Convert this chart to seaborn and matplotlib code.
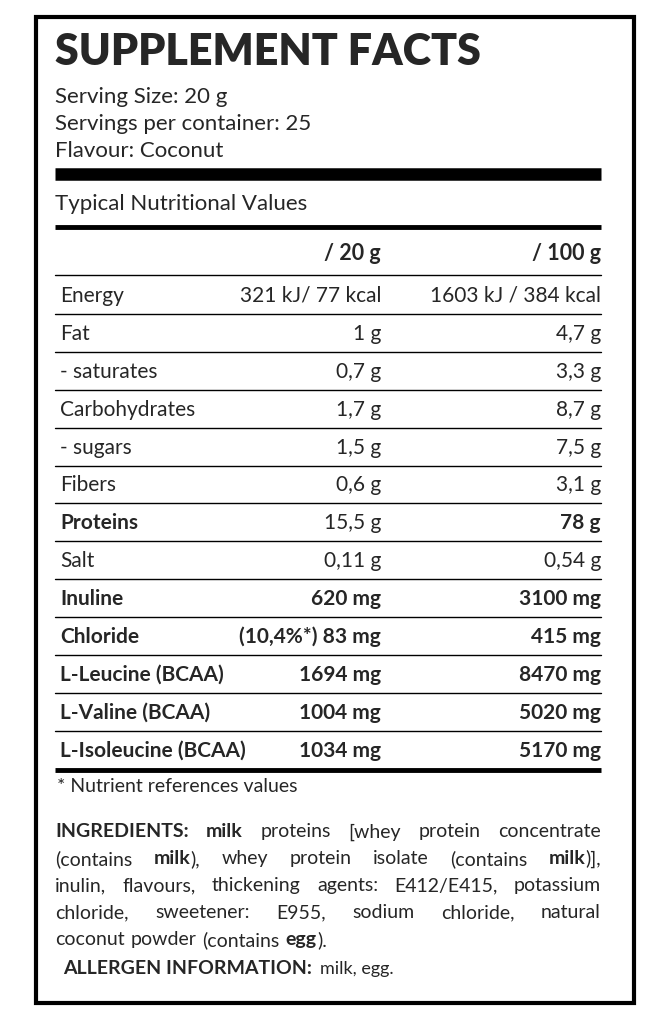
import matplotlib
matplotlib.use("Agg")
import matplotlib.pyplot as plt
import seaborn as sns

sns.set_theme(style="white")
plt.rcParams['font.family'] = ['Lato', 'DejaVu Sans']

title = "SUPPLEMENT FACTS"
header_lines = ["Serving Size: 20 g", "Servings per container: 25", "Flavour: Coconut"]
section = "Typical Nutritional Values"
col_heads = ["/ 20 g", "/ 100 g"]
nutrients = ["Energy", "Fat", "- saturates", "Carbohydrates", "- sugars", "Fibers", "Proteins",
             "Salt", "Inuline", "Chloride", "L-Leucine (BCAA)", "L-Valine (BCAA)", "L-Isoleucine (BCAA)"]
per20 = ["321 kJ/ 77 kcal", "1 g", "0,7 g", "1,7 g", "1,5 g", "0,6 g", "15,5 g", "0,11 g",
         "620 mg", "(10,4%*) 83 mg", "1694 mg", "1004 mg", "1034 mg"]
per100 = ["1603 kJ / 384 kcal", "4,7 g", "3,3 g", "8,7 g", "7,5 g", "3,1 g", "78 g", "0,54 g",
          "3100 mg", "415 mg", "8470 mg", "5020 mg", "5170 mg"]
bold_name = [False]*6 + [True] + [False] + [True]*5
bold_20 = [False]*8 + [True]*5
bold_100 = [False]*6 + [True] + [False] + [True]*5
footnote = "* Nutrient references values"
ingredients = [
    [("INGREDIENTS:", True), ("milk", True), ("proteins", False), ("[whey", False), ("protein", False), ("concentrate", False)],
    [("(contains", False), ("milk),", "mix"), ("whey", False), ("protein", False), ("isolate", False), ("(contains", False), ("milk)],", "mix2")],
    [("inulin,", False), ("flavours,", False), ("thickening", False), ("agents:", False), ("E412/E415,", False), ("potassium", False)],
    [("chloride,", False), ("sweetener:", False), ("E955,", False), ("sodium", False), ("chloride,", False), ("natural", False)],
    [("coconut", False), ("powder", False), ("(contains", False), ("egg).", "mix3")],
]

fig = plt.figure(figsize=(6.72, 10.2), dpi=100)
ax = fig.add_axes([0, 0, 1, 1])
ax.set_xlim(0, 672); ax.set_ylim(1020, 0); ax.axis('off')
fig.patch.set_facecolor('white')

ax.add_patch(plt.Rectangle((36, 18), 598, 986, fill=False, lw=3, ec='black'))
L, R = 55, 601
ax.text(L, 52, title, fontsize=31, fontweight='heavy', va='center', ha='left')
for i, t in enumerate(header_lines):
    ax.text(L, 97 + i*27, t, fontsize=16, va='center')
ax.plot([L, R], [175, 175], color='black', lw=9, solid_capstyle='butt')
ax.text(L, 204, section, fontsize=16, va='center')
ax.plot([L, R], [228, 228], color='black', lw=3.5, solid_capstyle='butt')
c20, c100 = 381, R
ax.text(c20, 253, col_heads[0], fontsize=15.5, fontweight='bold', ha='right', va='center')
ax.text(c100, 253, col_heads[1], fontsize=15.5, fontweight='bold', ha='right', va='center')
ax.plot([L, R], [276, 276], color='black', lw=1)
y0, dy = 296, 37.9
for i in range(len(nutrients)):
    y = y0 + i*dy
    ax.text(L + 5, y, nutrients[i], fontsize=15, va='center', fontweight='bold' if bold_name[i] else 'normal')
    ax.text(c20, y, per20[i], fontsize=15, va='center', ha='right', fontweight='bold' if bold_20[i] else 'normal')
    ax.text(c100, y, per100[i], fontsize=15, va='center', ha='right', fontweight='bold' if bold_100[i] else 'normal')
    if i < len(nutrients) - 1:
        ax.plot([L, R], [y + dy/2, y + dy/2], color='black', lw=1)
ax.plot([L, R], [771, 771], color='black', lw=3.5, solid_capstyle='butt')
ax.text(L + 2, 787, footnote, fontsize=14, va='center')

fig.canvas.draw()
r = fig.canvas.get_renderer()

def width(s, bold, fs=14):
    t = ax.text(0, 0, s, fontsize=fs, fontweight='bold' if bold else 'normal')
    bb = t.get_window_extent(renderer=r)
    t.remove()
    return bb.width * 672 / fig.bbox.width

def pieces(word, b):
    if b == "mix": return [("milk", True), ("),", False)]
    if b == "mix2": return [("milk", True), (")],", False)]
    if b == "mix3": return [("egg", True), (").", False)]
    return [(word, b)]

ly = 832
for li, line in enumerate(ingredients):
    ws = []
    for w, b in line:
        ps = pieces(w, b)
        ws.append((ps, sum(width(p, bb) for p, bb in ps)))
    total = sum(w for _, w in ws)
    justify = li < len(ingredients) - 1
    gap = (R - L - total) / (len(ws) - 1) if justify else width(" ", False) + 1
    x = L
    for ps, w in ws:
        for p, bb in ps:
            ax.text(x, ly, p, fontsize=14, va='center', fontweight='bold' if bb else 'normal')
            x += width(p, bb)
        x += gap
    ly += 27
ax.text(63, 969, "ALLERGEN INFORMATION:", fontsize=14, fontweight='bold', va='center')
ax.text(63 + width("ALLERGEN INFORMATION:", True) + 8, 969, "milk, egg.", fontsize=13, va='center')

fig.savefig("out.png", dpi=100, facecolor='white')
